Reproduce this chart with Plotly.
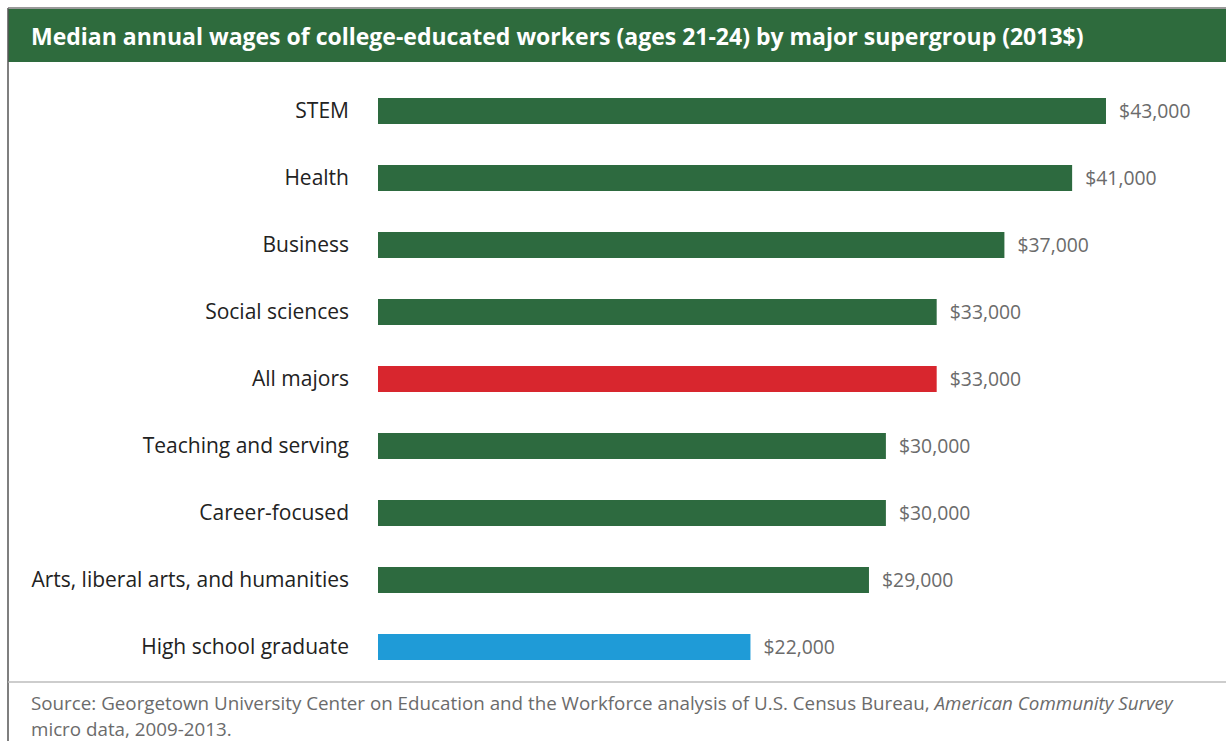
import plotly.graph_objects as go

categories = ["STEM", "Health", "Business", "Social sciences", "All majors",
              "Teaching and serving", "Career-focused",
              "Arts, liberal arts, and humanities", "High school graduate"]
wages = [43000, 41000, 37000, 33000, 33000, 30000, 30000, 29000, 22000]
bar_colors = ["#2d6a3f", "#2d6a3f", "#2d6a3f", "#2d6a3f", "#d8262e",
              "#2d6a3f", "#2d6a3f", "#2d6a3f", "#1f9bd7"]
title_text = "Median annual wages of college-educated workers (ages 21-24) by major supergroup (2013$)"
source_line1 = "Source: Georgetown University Center on Education and the Workforce analysis of U.S. Census Bureau, <i>American Community Survey</i>"
source_line2 = "micro data, 2009-2013."

W, H = 1226, 741
FONT = "Open Sans"

fig = go.Figure(go.Bar(
    x=wages, y=categories, orientation="h",
    marker=dict(color=bar_colors, line=dict(width=0)),
    width=0.39,
    text=["\u00a0\u00a0${:,}".format(v) for v in wages],
    textposition="outside", cliponaxis=False,
    textfont=dict(family=FONT, size=20, color="#6b6b6b"),
))

x0 = 378 / W
x1 = 1200 / W
fig.update_layout(
    width=W, height=H,
    margin=dict(l=0, r=0, t=0, b=0),
    paper_bgcolor="white", plot_bgcolor="white",
    showlegend=False,
    uniformtext=dict(mode=False),
    xaxis=dict(domain=[x0, x1], range=[0, (1200 - 378) / 0.01693],
               visible=False),
    yaxis=dict(domain=[1 - 680.5 / H, 1 - 77.5 / H],
               autorange=False, range=[8.5, -0.5],
               showgrid=False, zeroline=False, showline=False, ticks="",
               ticklabelstandoff=28,
               tickfont=dict(family=FONT, size=21, color="#222222")),
    font=dict(family=FONT),
)

shapes = [
    dict(type="rect", xref="paper", yref="paper", x0=8 / W, x1=1,
         y0=1 - 62 / H, y1=1 - 9 / H, fillcolor="#2e6b3d", line=dict(width=0), layer="below"),
    dict(type="line", xref="paper", yref="paper", x0=8 / W, x1=8 / W, y0=0, y1=1 - 8 / H,
         line=dict(color="#555555", width=1.5)),
    dict(type="line", xref="paper", yref="paper", x0=8 / W, x1=1, y0=1 - 8 / H, y1=1 - 8 / H,
         line=dict(color="#777777", width=1.5)),
    dict(type="line", xref="paper", yref="paper", x0=8 / W, x1=1, y0=1 - 682 / H, y1=1 - 682 / H,
         line=dict(color="#bdbdbd", width=1.5)),
]
fig.update_layout(shapes=shapes)

annotations = [
    dict(text="<b>" + title_text + "</b>", xref="paper", yref="paper",
         x=29 / W, y=1 - 36 / H, xanchor="left", yanchor="middle", showarrow=False,
         font=dict(family=FONT, size=23, color="white")),
    dict(text=source_line1, xref="paper", yref="paper",
         x=29 / W, y=1 - 703 / H, xanchor="left", yanchor="middle", showarrow=False,
         font=dict(family=FONT, size=18.8, color="#6b6b6b")),
    dict(text=source_line2, xref="paper", yref="paper",
         x=29 / W, y=1 - 729 / H, xanchor="left", yanchor="middle", showarrow=False,
         font=dict(family=FONT, size=18.8, color="#6b6b6b")),
]
fig.update_layout(annotations=annotations)

fig.write_html("out.html")
